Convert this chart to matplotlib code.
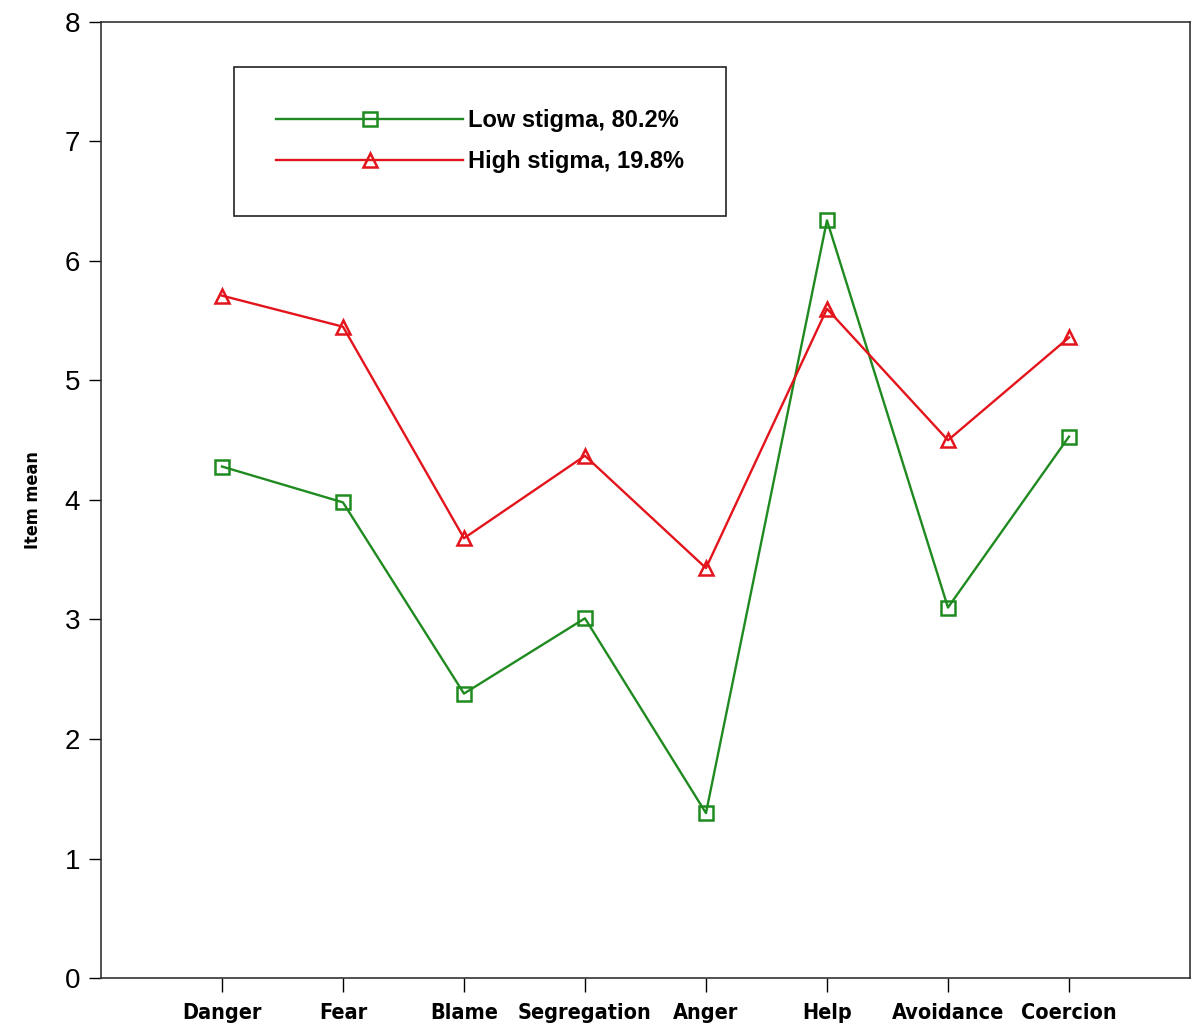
import matplotlib
matplotlib.use("Agg")
import matplotlib.pyplot as plt

# ── data ─────────────────────────────────────────────────────────────────────
items = ["Danger", "Fear", "Blame", "Segregation", "Anger", "Help", "Avoidance", "Coercion"]
low_stigma = [4.28, 3.98, 2.38, 3.01, 1.38, 6.34, 3.10, 4.53]
high_stigma = [5.71, 5.45, 3.68, 4.37, 3.43, 5.60, 4.50, 5.36]
labels = ["Low stigma, 80.2%", "High stigma, 19.8%"]
y_ticks = [0, 1, 2, 3, 4, 5, 6, 7, 8]

GREEN = "#1f8a1f"
RED = "#e3141b"
NARROW = ["DejaVu Sans", "Liberation Sans"]

plt.rcParams["font.family"] = ["Liberation Sans", "DejaVu Sans"]

fig = plt.figure(figsize=(11.92, 10.31), dpi=100)
ax = fig.add_axes([0.0847, 0.0514, 0.9136, 0.9273])

x = list(range(1, len(items) + 1))
ax.plot(x, low_stigma, color=GREEN, lw=1.7, marker="s", ms=10.5, mfc="none",
        mec=GREEN, mew=1.8, label=labels[0])
ax.plot(x, high_stigma, color=RED, lw=1.7, marker="^", ms=10.5, mfc="none",
        mec=RED, mew=1.8, label=labels[1])

ax.set_xlim(0, len(items) + 1)
ax.set_ylim(0, 8)
ax.set_xticks(x)
ax.set_xticklabels(items, fontsize=15.5, fontweight="bold", family=NARROW,
                   fontstretch="condensed")
ax.set_yticks(y_ticks)
ax.set_yticklabels([str(v) for v in y_ticks], fontsize=20)
ax.tick_params(axis="x", length=10, width=1, pad=8, direction="out")
ax.tick_params(axis="y", length=9, width=1, pad=6, direction="out")
ax.set_ylabel("Item mean", fontsize=13, fontweight="bold", family=NARROW,
              fontstretch="condensed", labelpad=16)

for s in ax.spines.values():
    s.set_linewidth(1.2)
    s.set_color("#333333")

leg = ax.legend(loc="upper left", bbox_to_anchor=(0.122, 0.953), borderaxespad=0,
                handlelength=7.9, handletextpad=0.2, borderpad=1.8,
                labelspacing=0.75, fancybox=False, framealpha=1,
                edgecolor="#222222", numpoints=1,
                prop={"weight": "bold", "size": 17})
leg.get_frame().set_linewidth(1.2)

fig.savefig("out.png", dpi=100)
